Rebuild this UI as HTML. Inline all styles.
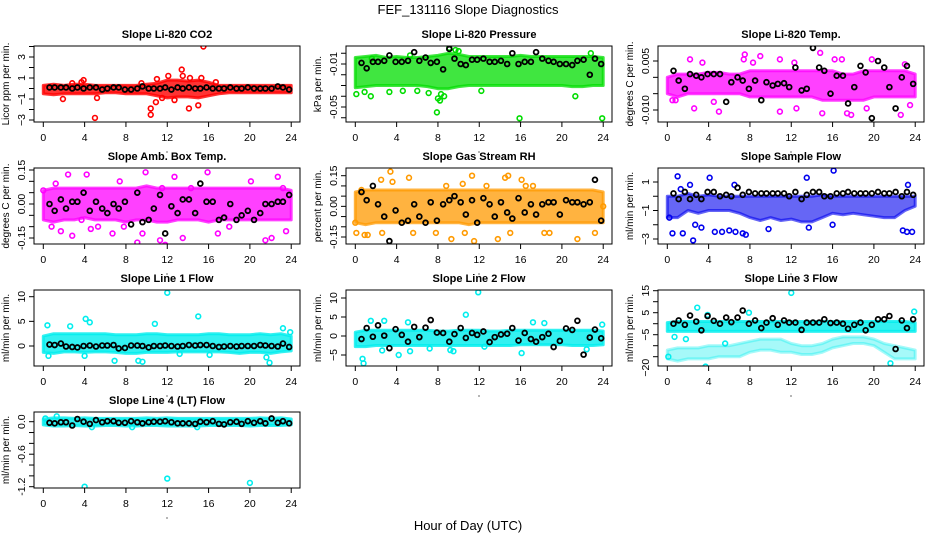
<!DOCTYPE html>
<html><head><meta charset="utf-8">
<style>
html,body{margin:0;padding:0;background:#fff;}
svg{display:block;font-family:"Liberation Sans",Arial,sans-serif;}
</style></head>
<body>
<svg id="chart" width="936" height="540" viewBox="0 0 936 540" xmlns="http://www.w3.org/2000/svg">
<rect width="936" height="540" fill="#fff"/>
<text x="468" y="14" text-anchor="middle" font-size="13">FEF_131116  Slope Diagnostics</text>
<text x="468" y="530" text-anchor="middle" font-size="13">Hour of Day (UTC)</text>
<g id="panels"></g>
</svg>
<script>
const blackHours = [0.6,1.1,1.7,2.2,2.8,3.3,3.9,4.5,5.1,5.7,6.2,6.8,7.3,7.9,8.5,9.1,9.6,10.2,10.7,11.3,11.8,12.4,13.0,13.5,14.1,14.7,15.2,15.8,16.4,17.0,17.5,18.1,18.7,19.2,19.8,20.4,21.0,21.5,22.1,22.7,23.2,23.8];
const bandHours = [0,1,2,3,4,5,6,7,8,9,10,11,12,13,14,15,16,17,18,19,20,21,22,23,24];
const xTicks = [0,4,8,12,16,20,24];

// CO2
const co2Lo = [-0.5,-0.6,-0.5,-0.5,-0.5,-0.5,-0.4,-0.4,-0.5,-0.5,-0.5,-0.7,-0.9,-0.8,-0.8,-0.9,-0.7,-0.5,-0.4,-0.4,-0.4,-0.4,-0.4,-0.4,-0.4];
const co2Hi = [0.3,0.4,0.3,0.4,0.4,0.3,0.3,0.3,0.3,0.3,0.4,0.5,0.8,0.8,0.7,0.8,0.6,0.3,0.3,0.3,0.3,0.3,0.3,0.3,0.3];
const co2OutX = [1.9,3.7,3.9,5.0,5.2,10.4,10.4,10.9,11.0,11.5,12.1,12.7,13.4,13.5,14.1,14.2,15.0,15.5,15.3,16.7,2.8,9.5];
const co2OutY = [-1.0,0.6,0.8,-2.8,-0.9,-2.5,-1.9,-1.3,0.9,-0.9,1.2,-1.1,1.8,1.2,-1.9,1.0,-1.6,4.0,1.0,0.6,0.5,0.5];
const co2Black = [0.1,0.1,0.1,0.1,0,0.1,0,0.1,0.1,-0.1,0,0.1,0.1,-0.1,-0.1,0,0.2,0,0,0,0.1,-0.1,0.1,0,0.1,0,0,0.1,0,0,0,0.1,0,0,0.1,0,0,0,0,0.2,0.1,-0.1];

// Pressure
const prsLo = [-0.032,-0.031,-0.03,-0.03,-0.03,-0.03,-0.03,-0.031,-0.033,-0.033,-0.031,-0.03,-0.03,-0.03,-0.03,-0.03,-0.03,-0.03,-0.03,-0.03,-0.03,-0.031,-0.031,-0.03,-0.03];
const prsHi = [-0.004,-0.003,-0.002,-0.004,-0.003,-0.004,-0.004,-0.003,-0.002,0.0,-0.001,-0.003,-0.003,-0.003,-0.003,-0.003,-0.002,-0.003,-0.003,-0.003,-0.003,-0.003,-0.003,-0.003,-0.004];
const prsOutX = [0.1,0.9,1.5,3.3,4.6,6.0,7.1,7.9,8.0,8.3,9.1,9.7,10.0,12.2,15.9,21.3,23.9,22.8,5.3,1.6,8.2,8.6];
const prsOutY = [-0.038,-0.036,-0.04,-0.036,-0.035,-0.035,-0.037,-0.055,-0.042,-0.038,0.005,0.003,0.002,-0.035,-0.0605,-0.04,-0.0605,0.0,-0.002,-0.005,-0.044,-0.04];
const prsBlack = [-0.009,-0.014,-0.008,-0.008,-0.007,-0.002,-0.008,-0.008,-0.007,0.001,-0.007,-0.004,-0.009,-0.008,-0.015,0.004,-0.005,-0.01,-0.011,-0.006,-0.006,-0.005,-0.008,-0.008,-0.007,-0.01,0,-0.01,-0.008,-0.008,0.001,-0.005,-0.007,-0.008,-0.01,-0.01,-0.011,-0.007,-0.006,-0.02,-0.005,-0.01];

// Li-820 Temp
const tmpLo = [-0.005,-0.006,-0.005,-0.005,-0.005,-0.005,-0.005,-0.005,-0.006,-0.006,-0.006,-0.006,-0.006,-0.006,-0.006,-0.007,-0.007,-0.007,-0.007,-0.007,-0.006,-0.006,-0.006,-0.006,-0.006];
const tmpHi = [0.0,0.001,0.001,0.001,0.0015,0.0015,0.001,0.001,0.002,0.002,0.002,0.002,0.002,0.002,0.002,0.002,0.002,0.001,0.001,0.002,0.002,0.002,0.002,0.002,0.001];
const tmpOutX = [0.5,0.8,2.2,3.4,2.6,4.5,5.0,7.5,8.3,9.0,10.9,10.9,12.3,14.8,15.0,16.2,16.9,17.4,17.8,19.3,19.8,22.6,23.0,23.5,7.4,12.5];
const tmpOutY = [-0.007,-0.007,0.0055,0.0045,-0.0095,-0.0075,-0.0105,0.007,0.0045,0.0065,-0.0105,0.0055,0.0045,0.0075,-0.011,0.0055,0.0055,-0.011,-0.0115,-0.0095,0.0055,-0.0115,0.004,-0.0085,0.0055,-0.0095];
const tmpBlack = [0.002,-0.001,-0.0035,0.001,0.0005,0,0.001,0.001,0.001,-0.0075,-0.0015,0,-0.001,-0.0035,-0.001,-0.007,-0.0015,-0.0025,-0.002,-0.0018,-0.003,0.003,-0.004,-0.0035,0.009,0.003,0.002,-0.005,0.0005,0.0005,-0.008,-0.003,0.0035,0.0015,-0.0125,0.005,0.003,-0.003,-0.0095,0,0.0035,-0.002];

// Amb box temp
const ambLo = [-0.07,-0.08,-0.07,-0.07,-0.06,-0.07,-0.07,-0.07,-0.08,-0.07,-0.07,-0.08,-0.08,-0.07,-0.07,-0.07,-0.08,-0.07,-0.07,-0.07,-0.07,-0.07,-0.07,-0.07,-0.07];
const ambHi = [0.06,0.07,0.07,0.07,0.07,0.07,0.07,0.07,0.07,0.07,0.08,0.07,0.07,0.07,0.07,0.07,0.07,0.07,0.07,0.07,0.07,0.07,0.07,0.07,0.06];
const ambOutX = [0,0.8,1.2,1.7,2.4,2.8,3.7,4.2,4.6,6.7,7.4,7.8,9.1,9.9,9.6,11.3,11.8,12.7,13.5,14.3,15.9,16.9,18.0,20.1,21.5,22.1,22.7,23.2,23.5,5.3,11.5];
const ambOutY = [0.06,-0.1,0.09,-0.12,0.13,-0.14,-0.07,0.13,-0.11,-0.13,0.1,-0.1,-0.17,0.14,-0.13,-0.16,-0.18,0.12,-0.15,0.07,0.14,-0.13,-0.1,0.1,-0.16,-0.15,0.12,0.07,-0.12,-0.1,0.07];
const ambBlack = [0,-0.03,0.02,-0.02,0.01,0.01,0.05,-0.03,0.01,-0.02,-0.04,0,-0.02,0.01,-0.09,0.05,-0.08,-0.07,-0.02,0.04,-0.13,-0.01,-0.04,0.02,0.02,-0.04,0.09,0.01,0.01,-0.07,-0.06,0,-0.07,-0.05,-0.03,-0.07,-0.04,0,0,0.01,0.01,0.04];

// Gas stream RH
const rhLo = [-0.08,-0.09,-0.08,-0.08,-0.08,-0.08,-0.08,-0.08,-0.08,-0.08,-0.08,-0.09,-0.08,-0.08,-0.08,-0.08,-0.08,-0.08,-0.08,-0.08,-0.08,-0.08,-0.08,-0.08,-0.08];
const rhHi = [0.07,0.08,0.08,0.08,0.08,0.08,0.08,0.08,0.08,0.08,0.08,0.08,0.08,0.08,0.08,0.08,0.08,0.08,0.08,0.08,0.08,0.08,0.08,0.08,0.07];
const rhOutX = [0,0.1,0.6,0.9,1.2,2.5,2.6,3.4,3.6,5.2,5.6,7.8,8.8,9.3,10.4,10.6,11.3,11.5,12.7,13.8,14.5,14.8,15.0,16.1,16.5,17.2,18.3,18.8,21.5,23.2,24];
const rhOutY = [-0.08,-0.13,0.08,-0.14,-0.14,0.13,-0.13,0.17,0.12,0.14,-0.13,-0.13,0.1,-0.16,0.11,-0.13,0.15,-0.17,0.1,-0.16,0.14,0.15,-0.13,0.13,0.1,0.1,-0.13,-0.13,-0.16,-0.13,0];
const rhBlack = [0.07,0.03,0.10,0.01,-0.05,-0.17,-0.02,-0.08,-0.07,0.01,-0.05,-0.08,0.02,-0.07,0.01,0.03,0.05,0.02,-0.04,0.03,-0.08,0.04,0.01,-0.05,0.02,-0.03,-0.06,0.04,-0.03,0.01,-0.04,0.01,0.02,0.02,-0.04,0.03,0.02,0.02,0.01,0.02,0.13,-0.07];

// Sample flow
const sfLo = [-1.5,-1.5,-1.0,-1.2,-1.0,-1.0,-1.0,-1.2,-1.5,-1.7,-1.5,-1.7,-1.6,-1.8,-1.8,-1.5,-1.2,-1.3,-1.2,-1.3,-1.4,-1.5,-1.5,-1.0,-0.7];
const sfHi = [0,0,0.2,0,0.1,0,0,0,0,0,0,0,0,0,0,0.1,0,0,0,0,0,0,0,0,0];
const sfOutX = [0.2,0.5,1.0,1.5,2.5,2.7,3.3,4.1,4.6,5.3,6.0,6.6,7.3,7.6,9.8,13.5,13.7,16.1,16.0,22.8,23.2,23.7,23.3,1.3,2.2,6.5];
const sfOutY = [-1.5,-2.6,1.4,-2.6,-3.1,-2.0,-2.2,1.3,-2.5,-2.5,-2.4,-2.5,-2.6,-2.7,-2.3,1.3,-2.2,1.8,-2.0,-2.4,-2.5,-2.5,0.8,0.5,0.8,0.8];
const sfBlack = [0.2,-0.2,0.3,-0.2,0.1,-0.2,0.3,0.3,0,0.1,0,0.6,0.1,0.3,0.2,0.2,0.2,0.2,0.2,0.2,0,0.3,-0.2,0.1,0.3,0.3,0,0,0.2,0.2,0.3,0.2,0.2,0.2,0.2,0.3,0.2,0.2,0.3,0,0.3,0.1];

// Line 1 flow
const l1Lo = [-1.3,-1.5,-1.2,-1.2,-1.3,-1.2,-1.2,-1.3,-1.5,-1.5,-1.3,-1.3,-1.3,-1.2,-1.2,-1.2,-1.2,-1.2,-1.3,-1.5,-1.3,-1.3,-1.5,-1.2,-1.0];
const l1Hi = [2.0,2.5,2.5,2.5,2.5,2.5,2.5,2.3,2.3,2.3,2.5,2.5,2.3,2.3,2.3,2.3,2.5,2.5,2.3,2.3,2.3,2.5,2.3,2.5,2.0];
const l1OutX = [0.4,0.5,2.6,4.0,4.1,4.5,6.9,9.2,9.6,10.8,12.0,15.0,21.6,21.9,23.2,23.9,13.2,16.1];
const l1OutY = [4.2,-2,4.0,-2,5.5,4.8,-3,-3,-3.2,4.5,10.8,6,-2.3,-3.4,3.6,2.8,-1.6,-1.8];
const l1Black = [0.3,0.2,0.5,-0.1,-0.2,-0.3,0,0.1,-0.1,0.1,0.1,0.2,-0.5,-0.4,0.1,0.1,0,-0.3,0,0,0.1,0,-0.1,0,0.2,0.1,0.2,0.2,0,-0.2,-0.1,0,-0.1,0,0,0,0.2,0.1,0,-0.1,0.5,-0.2];

// Line 2 flow
const l2Lo = [-2.8,-2.8,-2.5,-2.5,-2.5,-2.5,-2.5,-2.5,-2.5,-2.5,-2.5,-2.5,-2.5,-2.5,-2.5,-2.5,-2.3,-2.3,-2.3,-2.3,-2.3,-2.5,-2.5,-2.5,-2.3];
const l2Hi = [1.0,1.5,1.5,1.5,1.5,1.5,1.5,1.5,1.3,1.3,1.5,1.5,1.5,1.3,1.3,1.5,1.5,1.5,1.5,1.5,1.5,1.5,1.5,1.5,1.3];
const l2OutX = [0.7,0.8,1.5,2.8,2.6,4.2,5.1,5.3,7.2,9.2,10.7,11.9,12.5,16.1,17.2,18.3,22.4,23.9,9.5];
const l2OutY = [-6,-7.2,4,4,-3.8,-5,3.6,-4,-3.3,-3.7,5.6,11.5,-2.8,-4.5,3.6,3.4,-3.5,3,-4];
const l2Black = [-0.8,2.1,-0.2,2.8,0.1,-3.2,1.8,0.3,-1.5,2.4,-0.3,2.2,4.2,0.9,0.8,-1.5,0.5,2.1,-0.5,0.8,0.3,1.2,-1.6,-0.3,0.4,0.6,2.1,-1.2,0.8,-0.8,-1.5,-0.3,0.6,-2.9,-1.3,2.0,1.6,4.0,-4.9,-0.4,1.7,-0.6];

// Line 3 flow
const l3Lo = [-3.5,-3.5,-3.5,-3.5,-3.5,-3.5,-3.5,-3.5,-3.5,-3.5,-3.5,-3.5,-3.5,-3.5,-3.5,-3.5,-3.5,-3.5,-3.5,-3.5,-3.5,-3.5,-3.5,-3.5,-3.5];
const l3Hi = [0.5,1,1,1,1,1,1,1,1,1,1,1,1,1,1,1,1,1,1,1,1,1,1,1,0.5];
const l3Lo2 = [-16,-17,-16,-16,-16,-15,-15,-15,-13,-12,-12,-13,-13,-14,-14,-13,-11,-10,-9,-9,-10,-13,-16,-16,-16];
const l3Hi2 = [-12,-11,-11,-11,-10,-10,-10,-9,-8,-7,-7,-7,-9,-10,-10,-9,-7,-6,-6,-6,-7,-9,-10,-11,-12];
const l3OutX = [2.9,12.0,23.9,3.7,21.6,7.9,0.1,0.7,5.6,1.8,3.9];
const l3OutY = [7.3,14,5.5,-19.5,-18,5,-15,-6,-9,-7,4];
const l3Black = [0,1.5,-0.5,3.7,1,-3,3.5,1.3,0,2.8,0.7,2.8,6,0,1.5,-2,0.5,2.5,-0.5,1.5,0.5,0.5,-2.8,0.5,0.5,0.5,2,0.3,0.5,0,-2.3,-0.5,0.5,-3,-0.5,2,2,3.5,-11.5,1.5,-2,2];

// Line 4 flow
const l4Lo = [-0.06,-0.08,-0.08,-0.07,-0.08,-0.08,-0.07,-0.07,-0.08,-0.08,-0.07,-0.07,-0.08,-0.08,-0.08,-0.08,-0.07,-0.07,-0.07,-0.07,-0.08,-0.07,-0.07,-0.07,-0.06];
const l4Hi = [0.05,0.07,0.07,0.06,0.07,0.06,0.06,0.06,0.06,0.06,0.07,0.06,0.07,0.06,0.06,0.06,0.06,0.06,0.06,0.06,0.06,0.07,0.06,0.07,0.05];
const l4OutX = [4.0,12.0,20.0,0.2,1.3,4.7,8.6,14.9];
const l4OutY = [-1.2,-1.05,-1.13,0.06,0.1,-0.1,-0.1,-0.1];
const l4Black = [-0.02,-0.03,-0.01,-0.01,-0.07,0.05,0,-0.04,0.03,-0.01,0.01,0.01,-0.02,-0.02,0.01,-0.01,-0.03,-0.01,0,0,0.01,-0.01,-0.03,-0.03,-0.03,-0.04,0,-0.01,0.01,-0.04,-0.05,-0.01,0,-0.04,0.01,-0.02,0.01,-0.03,0.06,-0.02,0.01,-0.03];

const panels = [
 {name:'co2',title:'Slope Li-820 CO2',ylab:'Licor ppm per min.',col:0,row:0,color:'#ff0000',op:0.8,a:[3,57],b:[-3,120],ticks:[-3,-2,-1,0,1,2,3,4],labels:[-3,-1,1,3],labelText:null,lo:co2Lo,hi:co2Hi,ox:co2OutX,oy:co2OutY,blk:co2Black},
 {name:'pressure',title:'Slope Li-820 Pressure',ylab:'kPa per min.',col:1,row:0,color:'#00dd00',op:0.75,a:[-0.01,64],b:[-0.05,107],ticks:[0,-0.01,-0.02,-0.03,-0.04,-0.05,-0.06],labels:[-0.05,-0.01],labelText:['-0.05','-0.01'],lo:prsLo,hi:prsHi,ox:prsOutX,oy:prsOutY,blk:prsBlack},
 {name:'li820-temp',title:'Slope Li-820 Temp.',ylab:'degrees C per min.',col:2,row:0,color:'#ff00ff',op:0.75,a:[0.005,61],b:[-0.010,110],ticks:[0.005,0,-0.005,-0.010],labels:[-0.010,0.005],labelText:['-0.010','0.005'],lo:tmpLo,hi:tmpHi,ox:tmpOutX,oy:tmpOutY,blk:tmpBlack},
 {name:'amb-box-temp',title:'Slope Amb. Box Temp.',ylab:'degrees C per min.',col:0,row:1,color:'#ff00ff',op:0.75,a:[0.15,170],b:[-0.15,238],ticks:[-0.15,-0.1,-0.05,0,0.05,0.1,0.15],labels:[-0.15,0,0.15],labelText:['-0.15','0.00','0.15'],lo:ambLo,hi:ambHi,ox:ambOutX,oy:ambOutY,blk:ambBlack},
 {name:'gas-stream-rh',title:'Slope Gas Stream RH',ylab:'percent per min.',col:1,row:1,color:'#ff9a00',op:0.75,a:[0.15,175.7],b:[-0.15,237],ticks:[-0.15,-0.1,-0.05,0,0.05,0.1,0.15],labels:[-0.15,0,0.15],labelText:['-0.15','0.00','0.15'],lo:rhLo,hi:rhHi,ox:rhOutX,oy:rhOutY,blk:rhBlack},
 {name:'sample-flow',title:'Slope Sample Flow',ylab:'ml/min per min.',col:2,row:1,color:'#0000ee',op:0.6,a:[1,182],b:[-3,239],ticks:[-3,-2,-1,0,1],labels:[-3,-1,1],labelText:null,lo:sfLo,hi:sfHi,ox:sfOutX,oy:sfOutY,blk:sfBlack},
 {name:'line1-flow',title:'Slope Line 1 Flow',ylab:'ml/min per min.',col:0,row:2,color:'#00eeee',op:0.8,a:[10,296.7],b:[0,346],ticks:[0,5,10],labels:[0,5,10],labelText:null,lo:l1Lo,hi:l1Hi,ox:l1OutX,oy:l1OutY,blk:l1Black},
 {name:'line2-flow',title:'Slope Line 2 Flow',ylab:'ml/min per min.',col:1,row:2,color:'#00eeee',op:0.8,a:[10,298],b:[-5,355],ticks:[-5,0,5,10],labels:[-5,0,5,10],labelText:null,lo:l2Lo,hi:l2Hi,ox:l2OutX,oy:l2OutY,blk:l2Black},
 {name:'line3-flow',title:'Slope Line 3 Flow',ylab:'ml/min per min.',col:2,row:2,color:'#00eeee',op:0.8,op2:0.35,a:[15,290.7],b:[-20,367.7],ticks:[15,10,5,0,-5,-10,-15,-20],labels:[-20,-5,5,15],labelText:null,lo:l3Lo,hi:l3Hi,lo2:l3Lo2,hi2:l3Hi2,ox:l3OutX,oy:l3OutY,blk:l3Black},
 {name:'line4-flow',title:'Slope Line 4 (LT) Flow',ylab:'ml/min per min.',col:0,row:3,color:'#00eeee',op:0.8,a:[0,421.7],b:[-1.2,486.7],ticks:[0,-0.2,-0.4,-0.6,-0.8,-1.0,-1.2],labels:[-1.2,-0.6,0],labelText:['-1.2','-0.6','0.0'],lo:l4Lo,hi:l4Hi,ox:l4OutX,oy:l4OutY,blk:l4Black}
];

const NS='http://www.w3.org/2000/svg';
const root=document.getElementById('panels');
const colLeft=[34,346,658], rowTop=[46,168,290,412], W=266, H=76;
function mk(tag,attrs,parent){const e=document.createElementNS(NS,tag);for(const k in attrs)e.setAttribute(k,attrs[k]);parent.appendChild(e);return e;}

panels.forEach((p,pi)=>{
  const L=colLeft[p.col], T=rowTop[p.row];
  const xs=h=>L+9.3+h*10.33;
  const ys=v=>p.a[1]+(v-p.a[0])*(p.b[1]-p.a[1])/(p.b[0]-p.a[0]);
  const g=mk('g',{},root);
  
  
  const cp=mk('clipPath',{id:'cp'+pi},g);
  mk('rect',{x:L,y:T,width:W,height:H},cp);
  const t=mk('text',{x:L+W/2,y:T-8,'text-anchor':'middle','font-size':'11','font-weight':'bold'},g);
  t.textContent=p.title;
  
  
  const yl=mk('text',{x:0,y:0,transform:`translate(${L-25},${T+H/2}) rotate(-90)`,'text-anchor':'middle','font-size':'10'},g);
  yl.textContent=p.ylab;
  
  
  const marks=mk('g',{'clip-path':`url(#cp${pi})`},g);
  function band(lo,hi,nm,op){
    let d='';
    bandHours.forEach((h,i)=>{d+=(i?'L':'M')+xs(h).toFixed(1)+' '+ys(hi[i]).toFixed(1);});
    for(let i=bandHours.length-1;i>=0;i--) d+='L'+xs(bandHours[i]).toFixed(1)+' '+ys(lo[i]).toFixed(1);
    const b=mk('path',{d:d+'Z',fill:p.color,'fill-opacity':op,stroke:p.color,'stroke-opacity':op,'stroke-width':'3','stroke-linejoin':'round'},marks);
    
    
  }
  band(p.lo,p.hi,'dense-band',p.op);
  if(p.lo2) band(p.lo2,p.hi2,'lower-band',p.op2);
  p.ox.forEach((h,i)=>{
    const c=mk('circle',{cx:xs(h),cy:ys(p.oy[i]),r:2.4,fill:'none',stroke:p.color,'stroke-width':1.6},marks);
    
    
  });
  p.blk.forEach((v,i)=>{
    const c=mk('circle',{cx:xs(blackHours[i]),cy:ys(v),r:2.4,fill:'none',stroke:'#000','stroke-width':1.8},marks);
    
    
  });
  const box=mk('rect',{x:L,y:T,width:W,height:H,fill:'none',stroke:'#000','stroke-width':1},g);
  
  
  p.ticks.forEach(v=>{const y=ys(v);if(y<T-1||y>T+H+1)return;mk('line',{x1:L-5,x2:L,y1:y,y2:y,stroke:'#000'},g);});
  p.labels.forEach((v,i)=>{
    const y=ys(v);
    const tx=mk('text',{x:0,y:0,transform:`translate(${L-9},${y}) rotate(-90)`,'text-anchor':'middle','font-size':'10.5'},g);
    tx.textContent=p.labelText?p.labelText[i]:String(v).replace('-','\u2212');
    
    
  });
  mk('line',{x1:xs(0),x2:xs(24),y1:T+H,y2:T+H,stroke:'#000'},g);
  xTicks.forEach(h=>{
    mk('line',{x1:xs(h),x2:xs(h),y1:T+H,y2:T+H+5,stroke:'#000'},g);
    const tx=mk('text',{x:xs(h),y:T+H+19,'text-anchor':'middle','font-size':'10.5'},g);
    tx.textContent=h;
    
    
  });
  mk('circle',{cx:L+W/2,cy:T+H+30,r:0.6,fill:'#000'},g);
});
</script>
</body></html>
